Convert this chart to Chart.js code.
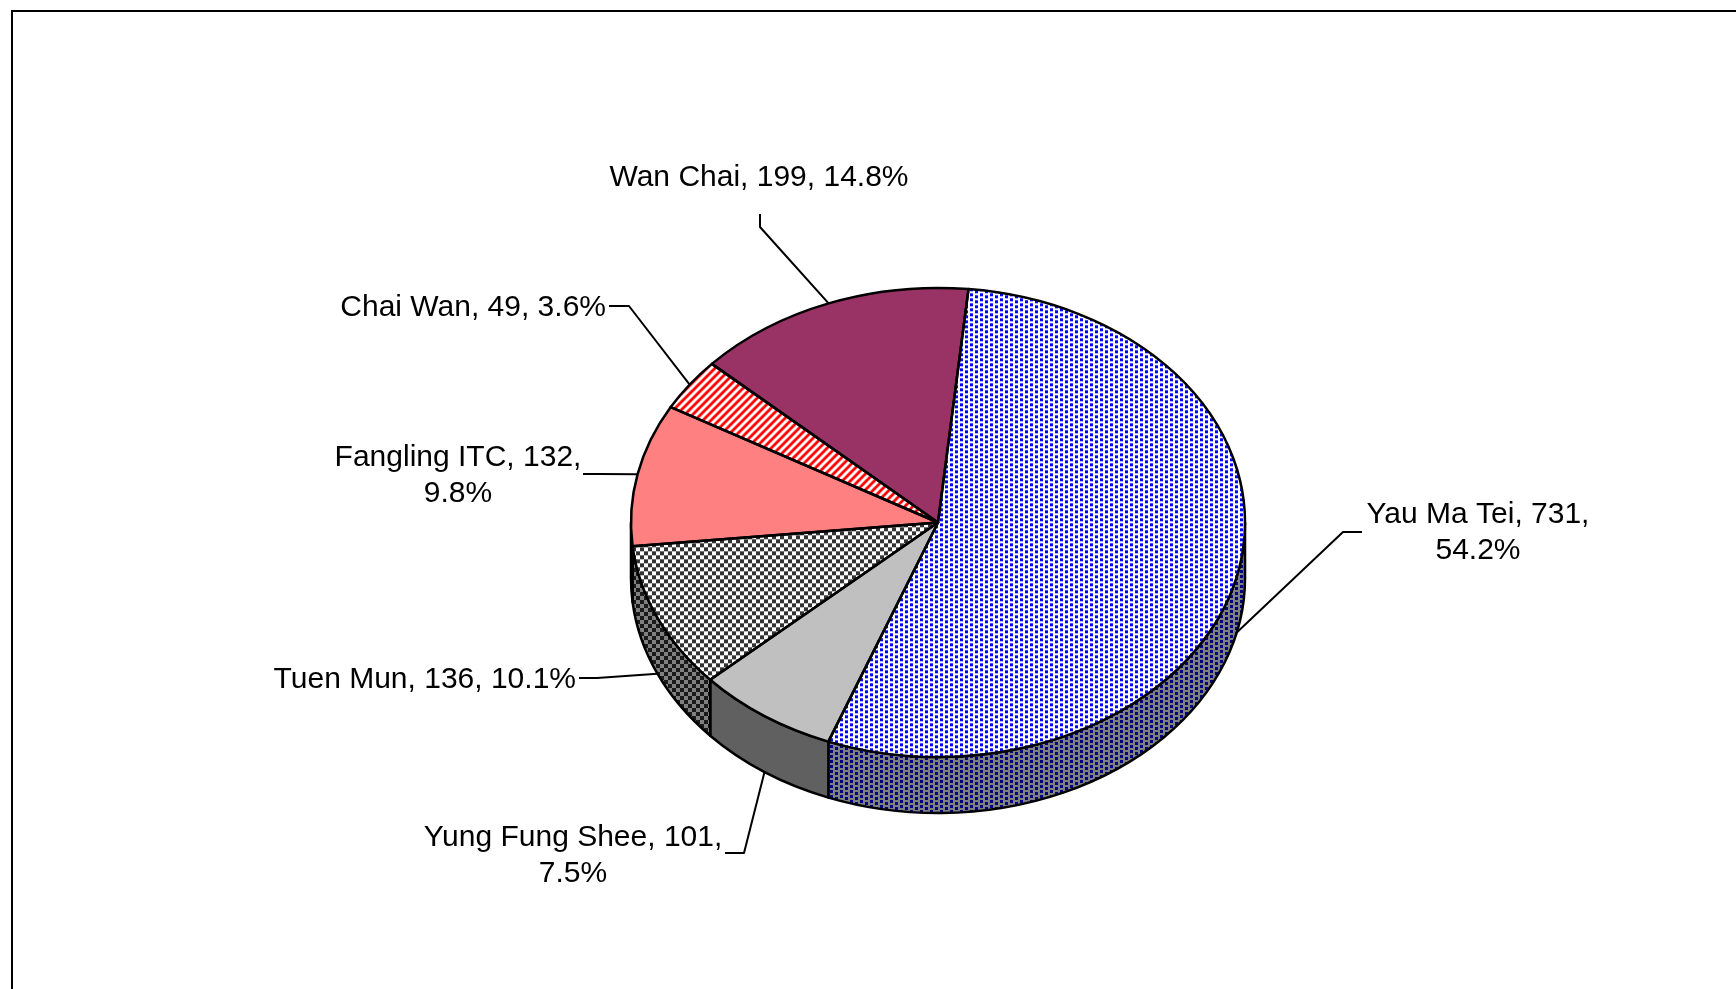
<!DOCTYPE html>
<html>
<head>
<meta charset="utf-8">
<title>Pie</title>
<script src="https://cdn.jsdelivr.net/npm/chart.js@4.4.0/dist/chart.umd.min.js"></script>
<style>
  html, body { margin: 0; padding: 0; background: #fff; overflow: hidden; }
  #wrap { position: relative; width: 1736px; height: 989px; overflow: hidden; }
  #frame { position: absolute; left: 11px; top: 10px; width: 1800px; height: 1100px;
           border-top: 2px solid #000; border-left: 2px solid #000; box-sizing: border-box; }
  canvas { position: absolute; left: 0; top: 0; }
</style>
</head>
<body>
<div id="wrap">
  <div id="frame"></div>
  <canvas id="chart" width="1736" height="989"></canvas>
</div>
<script>
const categories = ["Yau Ma Tei", "Yung Fung Shee", "Tuen Mun", "Fangling ITC", "Chai Wan", "Wan Chai"];
const counts = [731, 101, 136, 132, 49, 199];

const START_ANGLE = 5.7; // degrees clockwise from 12 o'clock
const TILT = 0.764;      // how much the top face is squashed
const DEPTH = 56;        // height of the wall, px

// label placement: text centre (tx, ty), leader start (sx, sy) and elbow (bx, by)
const labelLayout = [
  { tx: 1478, ty: 515, align: "center", wrap: true, sx: 1362, sy: 532, bx: 1343, by: 532 },
  { tx: 573, ty: 838, align: "center", wrap: true, sx: 725, sy: 853, bx: 744, by: 853 },
  { tx: 576, ty: 680, align: "right", wrap: false, sx: 579, sy: 678, bx: 597, by: 678 },
  { tx: 458, ty: 458, align: "center", wrap: true, sx: 583, sy: 474, bx: 600, by: 474 },
  { tx: 606, ty: 308, align: "right", wrap: false, sx: 609, sy: 306, bx: 629, by: 306 },
  { tx: 759, ty: 178, align: "center", wrap: false, sx: 760, sy: 214, bx: 760, by: 227 },
];

// pattern tiles
function tile(w, h, bg, paint) {
  const c = document.createElement("canvas");
  c.width = w;
  c.height = h;
  const g = c.getContext("2d");
  g.fillStyle = bg;
  g.fillRect(0, 0, w, h);
  if (paint) paint(g);
  return c;
}
function pattern(c, onTop) {
  const p = document.createElement("canvas").getContext("2d").createPattern(c, "repeat");
  // top face is drawn under a vertical squash, undo it for the pattern
  if (onTop) p.setTransform(new DOMMatrix([1, 0, 0, 1 / TILT, 0, 0]));
  return p;
}
const dots = (bg, fg) => tile(10, 5, bg, (g) => {
  g.fillStyle = fg;
  g.fillRect(0, 0, 3, 3);
  g.fillRect(5, 2, 3, 3);
});
const checks = (bg, fg) => tile(8, 8, bg, (g) => {
  g.fillStyle = fg;
  g.fillRect(0, 0, 4, 4);
  g.fillRect(4, 4, 4, 4);
});
const stripes = (bg, fg) => tile(8, 8, bg, (g) => {
  g.strokeStyle = fg;
  g.lineWidth = 2.8;
  g.beginPath();
  g.moveTo(-4, 4); g.lineTo(4, -4);
  g.moveTo(0, 8); g.lineTo(8, 0);
  g.moveTo(4, 12); g.lineTo(12, 4);
  g.stroke();
});

const topFills = [
  pattern(dots("#ffffff", "#0000ff"), true),
  "#c0c0c0",
  pattern(checks("#ffffff", "#333333"), true),
  "#ff8080",
  pattern(stripes("#ffffff", "#ff0000"), true),
  "#993366",
];
const sideFills = [
  pattern(dots("#808080", "#000080"), false),
  "#606060",
  pattern(checks("#808080", "#1a1a1a"), false),
  "#804040",
  pattern(stripes("#808080", "#800000"), false),
  "#4c1a33",
];

function frontParts(s, e) {
  const parts = [];
  for (let n = -1; n <= 2; n++) {
    const lo = Math.max(s, n * 2 * Math.PI);
    const hi = Math.min(e, n * 2 * Math.PI + Math.PI);
    if (hi > lo) parts.push([lo, hi]);
  }
  return parts;
}

const pie3d = {
  id: "pie3d",
  beforeDatasetsDraw(chart) {
    const ctx = chart.ctx;
    const arcs = chart.getDatasetMeta(0).data;
    ctx.save();
    ctx.lineWidth = 2.5;
    ctx.strokeStyle = "#000";
    ctx.lineJoin = "round";
    arcs.forEach((arc, i) => {
      const { x, y, outerRadius: r, startAngle, endAngle } = arc;
      frontParts(startAngle, endAngle).forEach(([a0, a1]) => {
        ctx.beginPath();
        ctx.ellipse(x, y, r, r * TILT, 0, a0, a1);
        ctx.ellipse(x, y + DEPTH, r, r * TILT, 0, a1, a0, true);
        ctx.closePath();
        ctx.fillStyle = sideFills[i];
        ctx.fill();
        ctx.stroke();
      });
    });
    ctx.restore();

    const { x, y } = arcs[0];
    ctx.save();
    ctx.translate(x, y);
    ctx.scale(1, TILT);
    ctx.translate(-x, -y);
  },
  afterDatasetsDraw(chart) {
    const ctx = chart.ctx;
    ctx.restore();
    const arcs = chart.getDatasetMeta(0).data;
    const total = counts.reduce((a, b) => a + b, 0);

    ctx.save();
    ctx.lineWidth = 2.5;
    ctx.strokeStyle = "#000";
    ctx.lineJoin = "round";
    arcs.forEach((arc) => {
      const { x, y, outerRadius: r, startAngle, endAngle } = arc;
      ctx.beginPath();
      ctx.moveTo(x, y);
      ctx.ellipse(x, y, r, r * TILT, 0, startAngle, endAngle);
      ctx.closePath();
      ctx.stroke();
    });

    // data labels with leader lines
    ctx.lineWidth = 2;
    ctx.font = '30px "Liberation Sans", Arial, sans-serif';
    ctx.fillStyle = "#000";
    ctx.textBaseline = "middle";
    arcs.forEach((arc, i) => {
      const { x, y, outerRadius: r, startAngle, endAngle } = arc;
      const mid = (startAngle + endAngle) / 2;
      const ax = x + r * Math.cos(mid);
      const ay = y + r * TILT * Math.sin(mid) + (Math.sin(mid) > 0 ? DEPTH : 0);
      const L = labelLayout[i];

      ctx.beginPath();
      ctx.moveTo(L.sx, L.sy);
      ctx.lineTo(L.bx, L.by);
      ctx.lineTo(ax, ay);
      ctx.stroke();

      const pct = (counts[i] / total * 100).toFixed(1) + "%";
      const lines = L.wrap
        ? [categories[i] + ", " + counts[i] + ",", pct]
        : [categories[i] + ", " + counts[i] + ", " + pct];
      ctx.textAlign = L.align;
      lines.forEach((t, k) => ctx.fillText(t, L.tx, L.ty + k * 36));
    });
    ctx.restore();
  },
};

new Chart(document.getElementById("chart"), {
  type: "pie",
  data: {
    labels: categories,
    datasets: [{ data: counts, backgroundColor: topFills, borderWidth: 0, clip: false }],
  },
  options: {
    responsive: false,
    animation: false,
    events: [],
    rotation: START_ANGLE,
    layout: { padding: { left: 631, right: 491, top: 215.5, bottom: 159.5 } },
    plugins: { legend: { display: false }, tooltip: { enabled: false } },
  },
  plugins: [pie3d],
});
</script>
</body>
</html>
